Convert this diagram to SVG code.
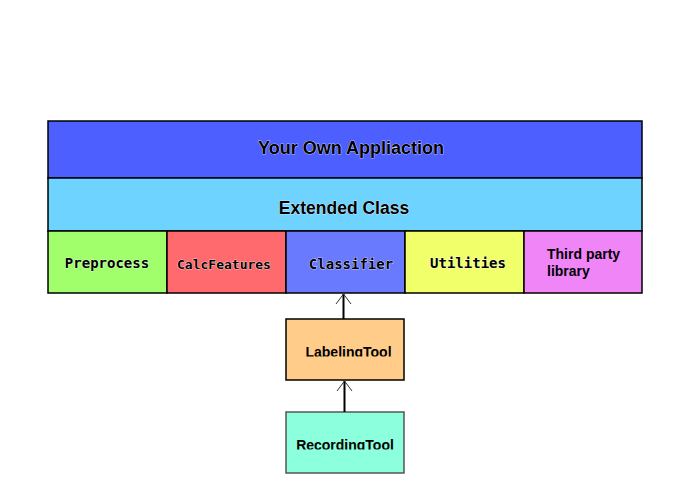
<svg xmlns="http://www.w3.org/2000/svg" width="700" height="500" viewBox="0 0 700 500">
<style>
  .box { stroke: #000; stroke-width: 1.5; }
  .title { font-family: "Liberation Sans", Arial, sans-serif; font-weight: bold; fill: #000; stroke: #fff; stroke-width: 0.6; paint-order: stroke; }
  .mono { font-family: "DejaVu Sans Mono", "Liberation Mono", monospace; font-weight: bold; fill: #000; stroke: #fff; stroke-width: 0.6; paint-order: stroke; }
  .lbl { font-family: "Liberation Sans", Arial, sans-serif; font-weight: bold; font-size: 14px; fill: #000; }
  .shaft { stroke: #000; stroke-width: 2; fill: none; }
  .head { stroke: #333; stroke-width: 1; fill: none; }
</style>
<defs>
  <clipPath id="clipL"><rect x="286" y="319" width="118" height="37.5"/></clipPath>
  <clipPath id="clipR"><rect x="286" y="412" width="118" height="37.5"/></clipPath>
</defs>
<rect width="700" height="500" fill="#fff"/>
<g id="app">
  <rect class="box" x="48" y="121" width="594" height="57" fill="#4D60FF"/>
  <text class="title" x="351" y="153.5" font-size="18" text-anchor="middle">Your Own Appliaction</text>
</g>
<g id="extended">
  <rect class="box" x="48" y="178" width="594" height="53" fill="#6ED3FF"/>
  <text class="title" x="344" y="213.5" font-size="17.5" text-anchor="middle">Extended Class</text>
</g>
<g id="preprocess">
  <rect class="box" x="48" y="231" width="119" height="62" fill="#A0FF6A"/>
  <text class="mono" x="107" y="268" font-size="14" text-anchor="middle">Preprocess</text>
</g>
<g id="calcfeatures">
  <rect class="box" x="167" y="231" width="119" height="62" fill="#FF6A6E"/>
  <text class="mono" x="224" y="269" font-size="13" text-anchor="middle">CalcFeatures</text>
</g>
<g id="classifier">
  <rect class="box" x="286" y="231" width="119" height="62" fill="#6A7AFF"/>
  <text class="mono" x="351" y="269" font-size="14" text-anchor="middle">Classifier</text>
</g>
<g id="utilities">
  <rect class="box" x="405" y="231" width="119" height="62" fill="#F0FF6A"/>
  <text class="mono" x="468" y="268" font-size="14" text-anchor="middle">Utilities</text>
</g>
<g id="thirdparty">
  <rect class="box" x="524" y="231" width="118" height="62" fill="#F085F8"/>
  <text class="lbl" x="547" y="259">Third party</text>
  <text class="lbl" x="547" y="276">library</text>
</g>
<g id="labelingtool">
  <rect class="box" x="286" y="319" width="118" height="61" fill="#FFCC8A"/>
  <text class="lbl" x="348.5" y="357" text-anchor="middle" clip-path="url(#clipL)">LabelingTool</text>
</g>
<g id="recordingtool">
  <rect x="286" y="412" width="118" height="61" fill="#8CFFDD" stroke="#555" stroke-width="1.5"/>
  <text class="lbl" x="345" y="450" text-anchor="middle" clip-path="url(#clipR)">RecordingTool</text>
</g>
<g id="connectors">
  <line class="shaft" x1="343.5" y1="319" x2="343.5" y2="294"/>
  <polyline class="head" points="336,304 343.5,294 351,304"/>
  <line class="shaft" x1="344.5" y1="412" x2="344.5" y2="381"/>
  <polyline class="head" points="337,391 344.5,381 352,391"/>
</g>
</svg>
